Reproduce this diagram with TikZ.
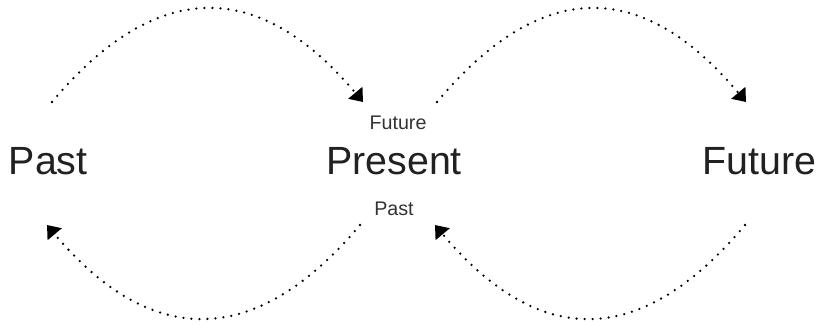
\documentclass[tikz,border=0pt]{standalone}
\usepackage{fontspec}
\setmainfont{Liberation Sans}
\usetikzlibrary{arrows.meta,positioning}

\begin{document}
\begin{tikzpicture}[
    x=0.025cm, y=-0.025cm,
    >={Triangle[length=3mm, width=4.5mm]},
    big/.style={inner sep=0pt, text=black!87, font=\fontsize{28}{30}\selectfont},
    small/.style={inner sep=0pt, text=black!80, font=\fontsize{14}{16}\selectfont},
    flow/.style={->, line width=1.8pt, line cap=round, dash pattern=on 0pt off 5.7pt}
]
\useasboundingbox (0,0) rectangle (829,324);

% Time labels
\node[big] (present) at (394,161) {Present};
\node[big, left=5.95cm of present] (past) {Past};
\node[big, right=6cm of present] (future) {Future};
\node[small, above=4.25mm of present, xshift=1mm] (toFuture) {Future};
\node[small, below=6.75mm of present] (toPast) {Past};

% Arc ends
\coordinate (pastTop) at (52,102);
\coordinate (presTopL) at (363,102);
\coordinate (presTopR) at (437,102);
\coordinate (futTop) at (746,102);
\coordinate (pastBot) at (47,225);
\coordinate (presBotL) at (360,225);
\coordinate (presBotR) at (435,225);
\coordinate (futBot) at (745,225);

% Forward arcs
\draw[flow] (pastTop) .. controls (156,-22) and (259,-22) .. (presTopL);
\draw[flow] (presTopR) .. controls (541,-22) and (642,-22) .. (futTop);

% Backward arcs
\draw[flow] (presBotL) .. controls (256,349) and (151,349) .. (pastBot);
\draw[flow] (futBot) .. controls (641,349) and (539,349) .. (presBotR);

\end{tikzpicture}
\end{document}
